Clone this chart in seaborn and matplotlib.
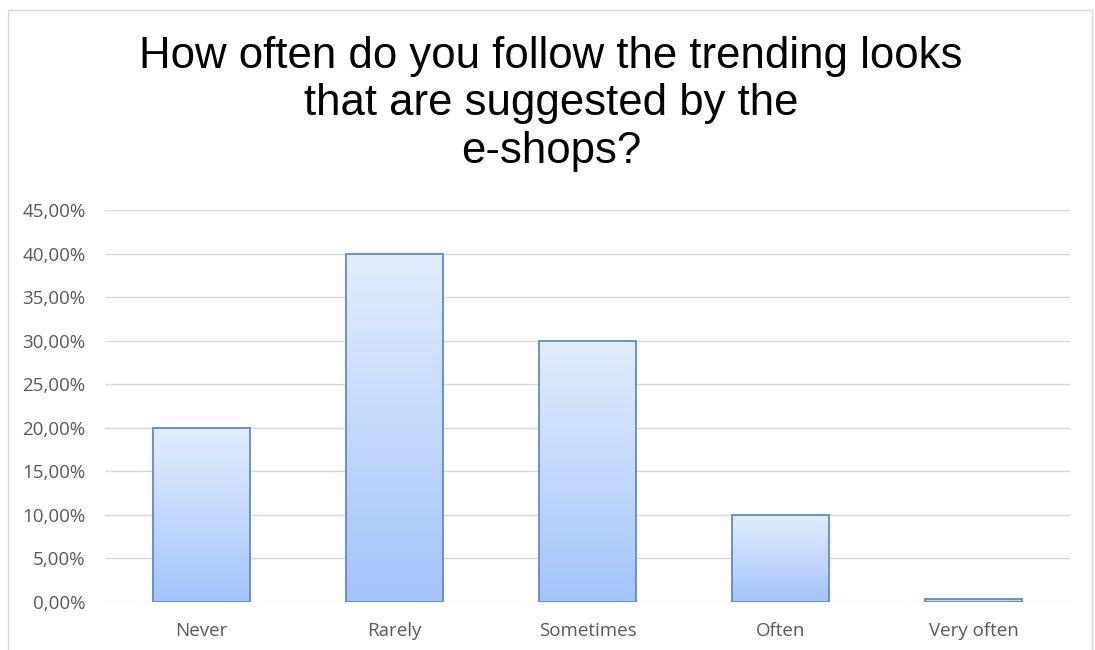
import numpy as np
import pandas as pd
import matplotlib
matplotlib.use("Agg")
import matplotlib.pyplot as plt
import seaborn as sns
from matplotlib.colors import LinearSegmentedColormap
from matplotlib.patches import Rectangle

categories = ["Never", "Rarely", "Sometimes", "Often", "Very often"]
shares = [20.0, 40.0, 30.0, 10.0, 0.3]
yticks = [0, 5, 10, 15, 20, 25, 30, 35, 40, 45]
title = "How often do you follow the trending looks\nthat are suggested by the\ne-shops?"

df = pd.DataFrame({"answer": categories, "share": shares})

sns.set_theme(style="white")
plt.rcParams["font.family"] = ["Open Sans", "DejaVu Sans"]

fig = plt.figure(figsize=(10.95, 6.5), dpi=100)
ax = fig.add_axes([105 / 1095, 1 - 602 / 650, 965 / 1095, 392 / 650])

sns.barplot(data=df, x="answer", y="share", ax=ax, width=0.5,
            color="#c9dbfb", edgecolor="#5b8bd0", linewidth=1.3, zorder=3)

# vertical light-to-darker blue gradient inside each bar
cmap = LinearSegmentedColormap.from_list("bar", ["#a5c4fb", "#e3edfd"])
grad = np.linspace(0, 1, 256).reshape(-1, 1)
for patch in ax.patches:
    x0, y0 = patch.get_x(), patch.get_y()
    w, h = patch.get_width(), patch.get_height()
    im = ax.imshow(grad, cmap=cmap, origin="lower", aspect="auto",
                   extent=[x0, x0 + w, y0, y0 + h], zorder=2)
    im.set_clip_path(patch)
    patch.set_facecolor("none")

ax.set_xlim(-0.5, 4.5)
ax.set_ylim(0, 45)
ax.set_yticks(yticks)
ax.set_yticklabels([f"{v:.2f}%".replace(".", ",") for v in yticks])
ax.set_xlabel("")
ax.set_ylabel("")
for y in yticks:
    ax.axhline(y, color="#d9d9d9", linewidth=1.0, zorder=1)
for s in ax.spines.values():
    s.set_visible(False)
ax.tick_params(axis="both", length=0, labelsize=13.5, labelcolor="#595959")
ax.tick_params(axis="y", pad=14)
ax.tick_params(axis="x", pad=14.5)

fig.text(551 / 1095, 1 - 104 / 650, title, ha="center", va="center",
         fontsize=31.5, color="#000000", family=["Liberation Sans", "DejaVu Sans"],
         linespacing=1.2)

# chart frame
fig.add_artist(Rectangle((8 / 1095, -0.01), 1084 / 1095, 1 - 10 / 650 + 0.01,
                         transform=fig.transFigure, fill=False,
                         edgecolor="#d9d9d9", linewidth=1.0))

fig.savefig("out.png", dpi=100, facecolor="white")
